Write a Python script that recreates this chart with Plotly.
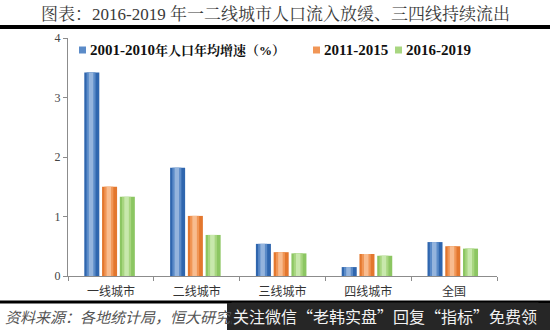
import plotly.graph_objects as go

# Data
categories = ["一线城市", "二线城市", "三线城市", "四线城市", "全国"]
series_names = ["2001-2010年人口年均增速（%）", "2011-2015", "2016-2019"]
growth_2001_2010 = [3.42, 1.82, 0.54, 0.15, 0.57]
growth_2011_2015 = [1.50, 1.01, 0.40, 0.37, 0.50]
growth_2016_2019 = [1.33, 0.69, 0.38, 0.34, 0.46]
y_ticks = [0, 1, 2, 3, 4]

series_values = [growth_2001_2010, growth_2011_2015, growth_2016_2019]
# edge / mid / highlight shades give each bar a cylindrical look
shades = [
    ("#2F66AE", "#5B8BC8", "#94B4DD"),
    ("#E3772E", "#F19656", "#F8BC8F"),
    ("#8CC662", "#A8D680", "#C8E8AC"),
]
legend_swatch = ["#5B8BC8", "#F19656", "#A8D680"]

W, H = 550, 330
L, R, T, B = 68, 53, 38, 54
PW, PH = W - L - R, H - T - B


def px(p):
    return (p - L) / PW


def py(p):
    return (H - B - p) / PH


fig = go.Figure()
bar_w = 0.175
step = 0.207
start = -0.31
for i, (name, vals, (c0, c1, c2)) in enumerate(zip(series_names, series_values, shades)):
    off = start + i * step
    fig.add_trace(go.Bar(
        x=categories, y=vals, name=name, offset=off, width=bar_w,
        marker=dict(color=c0, line=dict(width=0)),
    ))
    fig.add_trace(go.Bar(
        x=categories, y=vals, name=name, hoverinfo="skip",
        offset=off + bar_w * 0.15, width=bar_w * 0.6,
        marker=dict(color=c1, line=dict(width=0)),
    ))
    fig.add_trace(go.Bar(
        x=categories, y=vals, name=name, hoverinfo="skip",
        offset=off + bar_w * 0.3, width=bar_w * 0.3,
        marker=dict(color=c2, line=dict(width=0)),
    ))

serif = "Liberation Serif, Noto Serif CJK SC, Noto Sans CJK SC, serif"
cjk = "Noto Sans CJK SC, sans-serif"

# Legend row: small square swatch followed by bold label
legend_x = [79, 313, 395]
legend_y = 50
shapes = [
    dict(type="line", xref="paper", yref="paper", x0=px(0), x1=px(W),
         y0=py(27), y1=py(27), line=dict(color="#000", width=4)),
    dict(type="line", xref="paper", yref="paper", x0=px(0), x1=px(W),
         y0=py(302), y1=py(302), line=dict(color="#000", width=3)),
    dict(type="rect", xref="paper", yref="paper", x0=px(227), x1=px(W + 2),
         y0=py(303), y1=py(H + 2), fillcolor="#262626", line=dict(width=0)),
]
annotations = []
for name, col, lx in zip(series_names, legend_swatch, legend_x):
    shapes.append(dict(type="rect", xref="paper", yref="paper",
                       x0=px(lx), x1=px(lx + 7), y0=py(legend_y - 3.5), y1=py(legend_y + 3.5),
                       fillcolor=col, line=dict(width=0)))
    if "年" in name:
        head, tail = name.split("年", 1)
        label = f"<b><span style='font-size:15px'>{head}</span>年{tail}</b>"
    else:
        label = f"<b><span style='font-size:15px'>{name}</span></b>"
    annotations.append(dict(text=label, xref="paper", yref="paper",
                            x=px(lx + 9), y=py(legend_y), xanchor="left", yanchor="middle",
                            showarrow=False,
                            font=dict(family=serif, size=13, color="#111")))

annotations += [
    dict(text="图表：2016-2019 年一二线城市人口流入放缓、三四线持续流出",
         xref="paper", yref="paper", x=px(275), y=py(14),
         xanchor="center", yanchor="middle", showarrow=False,
         font=dict(family=serif, size=17, color="#3a3a3a")),
    dict(text="<i>资料来源：各地统计局，恒大研究院</i>",
         xref="paper", yref="paper", x=px(3), y=py(316),
         xanchor="left", yanchor="middle", showarrow=False,
         font=dict(family=cjk, size=15, color="#555")),
    dict(text="关注微信“老韩实盘”回复“指标”免费领",
         xref="paper", yref="paper", x=px(231), y=py(316),
         xanchor="left", yanchor="middle", showarrow=False,
         bgcolor="#262626",
         font=dict(family=cjk, size=16, color="#f2f2f2")),
]

fig.update_layout(
    width=W, height=H,
    margin=dict(l=L, r=R, t=T, b=B),
    paper_bgcolor="white", plot_bgcolor="white",
    barmode="overlay",
    showlegend=False,
    xaxis=dict(
        type="category", range=[-0.5, 4.5],
        showline=True, linecolor="#8c8c8c", linewidth=1,
        ticks="outside", tickson="boundaries", ticklen=4, tickcolor="#8c8c8c",
        tickfont=dict(family=cjk, size=12, color="#333"),
        ticklabelstandoff=5,
        showgrid=False, zeroline=False,
    ),
    yaxis=dict(
        range=[0, 4], tickvals=y_ticks,
        showline=True, linecolor="#8c8c8c", linewidth=1,
        ticks="outside", ticklen=4, tickcolor="#8c8c8c",
        tickfont=dict(family=serif, size=12, color="#444"),
        showgrid=False, zeroline=False,
    ),
    shapes=shapes,
    annotations=annotations,
)

fig.write_html("out.html")
